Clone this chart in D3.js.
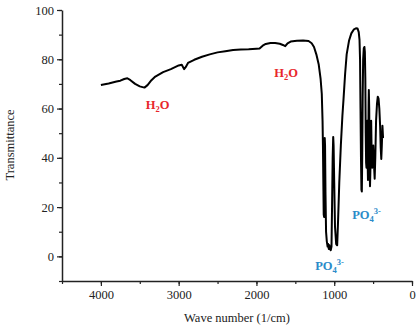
<html>
<head>
<script src="https://cdn.jsdelivr.net/npm/d3@7"></script>
<style>
  body { margin: 0; background: white; }
  svg text { font-family: "Times New Roman", "Liberation Serif", "DejaVu Serif", serif; }
</style>
</head>
<body>
<script>
// DATA - wave numbers (1/cm) and transmittance
var waveNumber = [4000,3900,3800,3750,3700,3660,3620,3560,3500,3440,3400,3350,3300,3200,3100,3000,2960,2930,2910,2880,2800,2700,2600,2500,2400,2300,2200,2100,2000,1960,1920,1880,1820,1760,1700,1660,1630,1600,1560,1480,1400,1330,1290,1260,1230,1200,1175,1160,1150,1145,1140,1135,1130,1126,1122,1118,1112,1105,1095,1085,1078,1070,1062,1055,1045,1035,1028,1020,1013,1008,1000,990,975,962,950,935,915,895,880,860,840,810,780,750,720,700,685,675,668,662,656,650,645,640,634,628,620,612,606,600,595,590,585,580,576,572,566,562,558,555,550,546,540,535,530,525,520,512,505,498,490,480,472,462,450,440,430,420,410,402,395,388,380,372];
var transmittance = [69.6,70.2,71,71.3,72,72.3,71.5,70,69,68.5,69.5,71.5,73,74.8,76,77.5,77.8,76,76.8,78.5,79.8,81,82,82.8,83.3,83.8,84,84.1,84.3,84.4,85.5,86.2,86.6,86.6,86.3,85.8,85.3,86.5,87.2,87.5,87.6,87.4,86.5,85,82,78,72,66,55,45,30,17,16,35,48,45,25,10,6,4,5,3,4.5,3,2.5,4,20,40,48.5,45,30,12,5,4.5,15,30,45,57,64,74,82,87.5,90.5,92,92.6,92.5,91,88,80,60,40,27,26.3,40,65,80,84.5,85,83,72,50,38,36,50,55,40,31,45,62,67.5,60,40,28.5,35,48,55,44,36,42,45,38,31.5,40,55,62,64.8,64,60,53,44,39.5,45,53,48];

// DATA - ticks and band labels
var xTicks = [4000,3000,2000,1000,0];
var yTicks = [0,20,40,60,80,100];
var bandLabels = [
  {w:3270, t:60, name:"H", sub:"2", rest:"O", sup:"", color:"#e8262b"},
  {w:1620, t:73, name:"H", sub:"2", rest:"O", sup:"", color:"#e8262b"},
  {w:585, t:15, name:"PO", sub:"4", rest:"", sup:"3-", color:"#2b8bc9"},
  {w:1060, t:-5.5, name:"PO", sub:"4", rest:"", sup:"3-", color:"#2b8bc9"}
];

var width = 418, height = 327;
var serif = "'Times New Roman', 'Liberation Serif', serif";
var svg = d3.select("body").append("svg")
  .attr("width", width)
  .attr("height", height);

var x = d3.scaleLinear().domain([4500, 0]).range([62, 412]);
var y = d3.scaleLinear().domain([-10, 100]).range([281, 10]);

// minor ticks
svg.append("g")
  .attr("transform", "translate(0,281)")
  .call(d3.axisBottom(x).tickValues(d3.range(4500, -1, -500)).tickSize(3).tickFormat(""))
  .call(function(g){ g.select(".domain").remove(); });
svg.append("g")
  .attr("transform", "translate(62,0)")
  .call(d3.axisLeft(y).tickValues(d3.range(-10, 101, 10)).tickSize(3).tickFormat(""))
  .call(function(g){ g.select(".domain").remove(); });

// major axes
svg.append("g")
  .attr("transform", "translate(0,281)")
  .call(d3.axisBottom(x).tickValues(xTicks).tickFormat(d3.format("d")).tickSize(5).tickSizeOuter(0).tickPadding(4));
svg.append("g")
  .attr("transform", "translate(62,0)")
  .call(d3.axisLeft(y).tickValues(yTicks).tickFormat(d3.format("d")).tickSize(5).tickSizeOuter(0).tickPadding(3));

svg.selectAll("g").attr("font-family", serif);
svg.selectAll(".domain").attr("stroke", "#222").attr("stroke-width", 1.5);
svg.selectAll(".tick line").attr("stroke", "#222").attr("stroke-width", 1.2);
svg.selectAll(".tick text")
  .attr("font-size", 12.5)
  .attr("fill", "#222");

// axis titles
svg.append("text")
  .attr("x", 237).attr("y", 322)
  .attr("text-anchor", "middle")
  .attr("font-size", 12.5)
  .attr("fill", "#222")
  .text("Wave number (1/cm)");
svg.append("text")
  .attr("transform", "translate(14,145) rotate(-90)")
  .attr("text-anchor", "middle")
  .attr("font-size", 12.5)
  .attr("fill", "#222")
  .text("Transmittance");

// spectrum line
var spectrum = waveNumber.map(function(w, i){ return [w, transmittance[i]]; });
svg.append("path")
  .datum(spectrum)
  .attr("fill", "none")
  .attr("stroke", "black")
  .attr("stroke-width", 2)
  .attr("stroke-linejoin", "round")
  .attr("d", d3.line().x(function(d){ return x(d[0]); }).y(function(d){ return y(d[1]); }));

// band labels
bandLabels.forEach(function(b){
  var t = svg.append("text")
    .attr("x", x(b.w)).attr("y", y(b.t))
    .attr("text-anchor", "middle")
    .attr("font-size", 12.5)
    .attr("font-weight", "bold")
    .attr("fill", b.color);
  t.append("tspan").text(b.name);
  t.append("tspan").attr("dy", 3).attr("font-size", 8.5).text(b.sub);
  if (b.rest) t.append("tspan").attr("dy", -3).text(b.rest);
  if (b.sup) t.append("tspan").attr("dy", -8).attr("font-size", 8.5).text(b.sup);
});
</script>
</body>
</html>
